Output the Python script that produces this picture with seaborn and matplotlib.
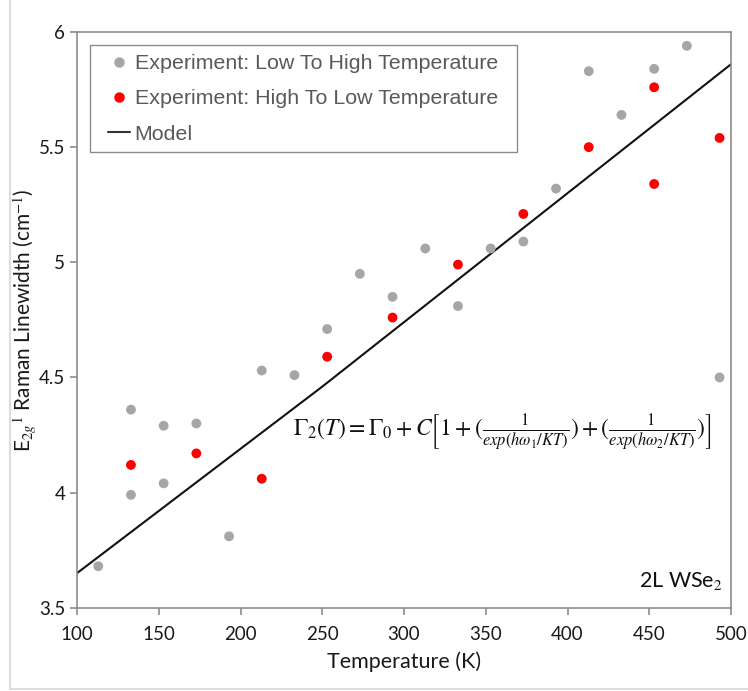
import numpy as np
import pandas as pd
import matplotlib
matplotlib.use('Agg')
import matplotlib.pyplot as plt
import seaborn as sns
from matplotlib.lines import Line2D
from matplotlib.patches import Rectangle

# Datos
temp_bajo_alto = [113, 133, 133, 153, 153, 173, 193, 213, 233, 253, 273, 293,
                  313, 333, 353, 373, 393, 413, 433, 453, 473, 493]
ancho_bajo_alto = [3.68, 4.36, 3.99, 4.29, 4.04, 4.30, 3.81, 4.53, 4.51, 4.71,
                   4.95, 4.85, 5.06, 4.81, 5.06, 5.09, 5.32, 5.83, 5.64, 5.84,
                   5.94, 4.50]

temp_alto_bajo = [133, 173, 213, 253, 293, 333, 373, 413, 453, 453, 493]
ancho_alto_bajo = [4.12, 4.17, 4.06, 4.59, 4.76, 4.99, 5.21, 5.50, 5.76, 5.34, 5.54]

temp_modelo = [100, 150, 200, 250, 300, 350, 400, 450, 500]
ancho_modelo = [3.65, 3.92, 4.19, 4.46, 4.74, 5.02, 5.30, 5.58, 5.86]

xticks = [100, 150, 200, 250, 300, 350, 400, 450, 500]
yticks = [3.5, 4, 4.5, 5, 5.5, 6]
ytick_labels = ['3.5', '4', '4.5', '5', '5.5', '6']

sns.set_style('white')
plt.rcParams['font.family'] = ['Lato', 'DejaVu Sans']
plt.rcParams['mathtext.fontset'] = 'stix'

fig = plt.figure(figsize=(7.48, 6.91), dpi=100)
ax = fig.add_axes([77 / 748, 1 - 607.7 / 691, (731 - 77) / 748, (607.7 - 32) / 691])

gris = '#a6a6a6'
rojo = '#ff0000'
eje = '#8c8c8c'

df1 = pd.DataFrame({'T': temp_bajo_alto, 'G': ancho_bajo_alto})
df2 = pd.DataFrame({'T': temp_alto_bajo, 'G': ancho_alto_bajo})
dfm = pd.DataFrame({'T': temp_modelo, 'G': ancho_modelo})

sns.scatterplot(data=df1, x='T', y='G', color=gris, s=50, edgecolor='none', ax=ax, zorder=3)
sns.scatterplot(data=df2, x='T', y='G', color=rojo, s=50, edgecolor='none', ax=ax, zorder=3)
sns.lineplot(data=dfm, x='T', y='G', color='#111111', linewidth=1.5, ax=ax, zorder=2)

ax.set_xlim(100, 500)
ax.set_ylim(3.5, 6)
ax.set_xticks(xticks)
ax.set_yticks(yticks)
ax.set_yticklabels(ytick_labels)
ax.tick_params(axis='both', labelsize=13.5, colors=eje, labelcolor='#1a1a1a',
               direction='out', length=5, width=1.2, bottom=True, left=True)
ax.tick_params(axis='x', pad=8)
for s in ax.spines.values():
    s.set_color(eje)
    s.set_linewidth(1.2)

ax.set_xlabel('Temperature (K)', fontsize=15.5, color='#1a1a1a', labelpad=6)
ax.set_ylabel(r'E$_{2g}$$^{1}$ Raman Linewidth (cm$^{-1}$)', fontsize=15,
              color='#1a1a1a', labelpad=0)

# Leyenda (marco dibujado aparte)
ax.add_patch(Rectangle((0.0199, 0.7916), 0.6529, 0.1858, transform=ax.transAxes,
                       facecolor='white', edgecolor='#8c8c8c', linewidth=1.0, zorder=4))
handles = [
    Line2D([], [], marker='o', linestyle='none', color=gris, markersize=6.5),
    Line2D([], [], marker='o', linestyle='none', color=rojo, markersize=6.5),
    Line2D([], [], color='#333333', linewidth=1.5),
]
labels = ['Experiment: Low To High Temperature',
          'Experiment: High To Low Temperature',
          'Model']
leg = ax.legend(handles, labels, loc='upper left', bbox_to_anchor=(0.0474, 0.961),
                frameon=False, prop={'family': 'Liberation Sans', 'size': 15.4},
                handlelength=1.05, handletextpad=0.2, borderpad=0,
                labelspacing=0.75, borderaxespad=0)
leg.set_zorder(5)
for t in leg.get_texts():
    t.set_color('#595959')

# Formula del modelo
ax.text(0.33, 0.305,
        r'$\Gamma_2(T) = \Gamma_0 + C\left[1 + (\frac{1}{exp(h\omega_1/KT)}) + (\frac{1}{exp(h\omega_2/KT)})\right]$',
        transform=ax.transAxes, fontsize=17, color='#111111', va='center', ha='left')

ax.text(0.987, 0.028, r'2L WSe$_2$', transform=ax.transAxes, fontsize=15.5,
        ha='right', va='bottom', color='#111111')

# Marco claro alrededor de la figura
fig.add_artist(Line2D([10 / 748, 10 / 748], [1 - 689 / 691, 1.0],
                      transform=fig.transFigure, color='#dddddd', linewidth=1.5))
fig.add_artist(Line2D([10 / 748, 1.0], [1 - 689 / 691, 1 - 689 / 691],
                      transform=fig.transFigure, color='#dddddd', linewidth=1.5))

fig.savefig('out.png', dpi=100)
